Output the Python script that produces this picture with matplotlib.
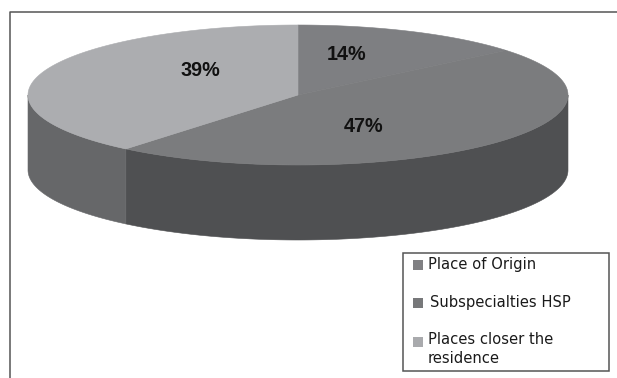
import matplotlib
matplotlib.use("Agg")
import matplotlib.pyplot as plt
import numpy as np

labels = ["Place of Origin", "Subspecialties HSP", "Places closer the\nresidence"]
values = [14, 47, 39]
pct_labels = ["14%", "47%", "39%"]

top_colors = ["#7e7f82", "#7b7c7e", "#acadb0"]
side_colors = ["#4f5052", "#4f5052", "#666769"]
swatch_colors = ["#808083", "#77787a", "#a9aaad"]

cx, cy = 298, 95
rx, ry = 270, 70
depth = 75


def edge(theta):
    # theta clockwise from the top of the pie
    return cx + rx * np.sin(theta), cy - ry * np.cos(theta)


fig = plt.figure(figsize=(6.17, 3.78), dpi=100)
ax = fig.add_axes([0, 0, 1, 1])
ax.set_xlim(0, 617)
ax.set_ylim(378, 0)
ax.axis("off")

# chart frame, open on the right and at the bottom
ax.plot([9.5, 9.5, 617], [378, 11.5, 11.5], color="#555555", lw=1.1)

fracs = np.array(values) / sum(values)
ends = np.cumsum(fracs) * 2 * np.pi
starts = ends - fracs * 2 * np.pi

# side wall, only the front half can be seen
for a, b, c in zip(starts, ends, side_colors):
    lo, hi = max(a, np.pi / 2), min(b, 3 * np.pi / 2)
    if hi > lo:
        t = np.linspace(lo, hi, 200)
        x, y = edge(t)
        ax.fill(np.r_[x, x[::-1]], np.r_[y, y[::-1] + depth], fc=c, ec=c, lw=0.4)

# top face, thin edge in the same colour hides the seams
for a, b, c in zip(starts, ends, top_colors):
    t = np.linspace(a, b, 200)
    x, y = edge(t)
    ax.fill(np.r_[cx, x], np.r_[cy, y], fc=c, ec=c, lw=0.4)

pct_pos = [(347, 54), (364, 126), (200, 70)]
for s, (px, py) in zip(pct_labels, pct_pos):
    ax.text(px, py, s, family="Liberation Sans", fontweight="bold", fontsize=14.2,
            color="#111111", ha="center", va="center")

# legend
ax.add_patch(plt.Rectangle((403, 252.5), 206, 118, fc="white", ec="#555555", lw=1.1))
text_x = [428, 429.5, 428]
text_y = [265, 303, 332]
text_va = ["center", "center", "top"]
sw_y = [264.5, 303, 341.5]
for s, tx, ty, va, sy, c in zip(labels, text_x, text_y, text_va, sw_y, swatch_colors):
    ax.add_patch(plt.Rectangle((413, sy - 5), 9.5, 10, fc=c, ec="none"))
    ax.text(tx, ty, s, family="DejaVu Sans", fontsize=10.6, color="#1a1a1a",
            va=va, linespacing=1.35)

fig.savefig("out.png", dpi=100)
